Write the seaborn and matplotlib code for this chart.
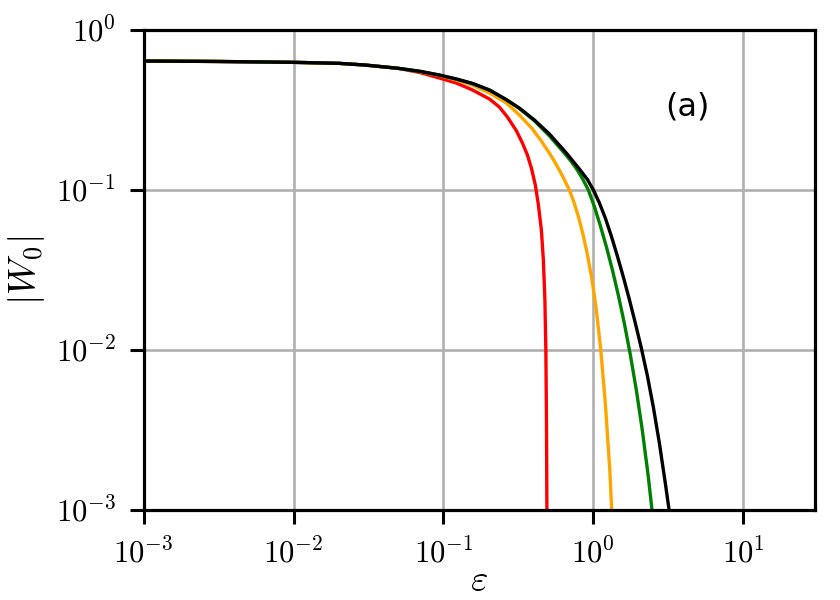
import numpy as np
import pandas as pd
import matplotlib
matplotlib.use('Agg')
import matplotlib.pyplot as plt
import matplotlib.ticker as mticker
import seaborn as sns

# values (log-log axes)
eps_red = [0.001, 0.003, 0.01, 0.02, 0.03, 0.05, 0.0703, 0.094, 0.122, 0.156, 0.203, 0.236,
           0.267, 0.307, 0.336, 0.363, 0.386, 0.410, 0.430, 0.450, 0.464, 0.475, 0.482,
           0.4866, 0.4898, 0.4905]
w_red = [0.640, 0.636, 0.628, 0.619, 0.604, 0.576, 0.541, 0.501, 0.466, 0.422, 0.370, 0.330,
         0.286, 0.234, 0.197, 0.1655, 0.137, 0.1075, 0.0806, 0.0562, 0.0365, 0.0205, 0.010,
         0.00365, 0.001, 0.0005]

eps_orange = [0.001, 0.003, 0.01, 0.02, 0.03, 0.05, 0.0703, 0.094, 0.122, 0.156, 0.203, 0.263,
              0.321, 0.392, 0.450, 0.509, 0.550, 0.603, 0.646, 0.692, 0.741, 0.794, 0.851,
              0.912, 0.977, 1.047, 1.122, 1.202, 1.288, 1.334]
w_orange = [0.640, 0.636, 0.628, 0.619, 0.604, 0.576, 0.549, 0.520, 0.487, 0.453, 0.404, 0.350,
            0.294, 0.241, 0.202, 0.170, 0.151, 0.1295, 0.114, 0.100, 0.0841, 0.0684, 0.0533,
            0.0396, 0.0279, 0.0178, 0.00989, 0.00462, 0.00176, 0.00088]

eps_green = [0.001, 0.003, 0.01, 0.02, 0.03, 0.05, 0.0703, 0.094, 0.122, 0.156, 0.203, 0.263,
             0.321, 0.404, 0.509, 0.641, 0.703, 0.771, 0.845, 0.926, 1.016, 1.114, 1.222,
             1.340, 1.469, 1.611, 1.766, 1.936, 2.123, 2.328, 2.455, 2.483]
w_green = [0.640, 0.636, 0.628, 0.619, 0.604, 0.576, 0.551, 0.522, 0.493, 0.462, 0.420, 0.366,
           0.323, 0.271, 0.218, 0.170, 0.153, 0.136, 0.118, 0.100, 0.0787, 0.0597, 0.0441,
           0.0316, 0.0219, 0.0146, 0.00929, 0.0056, 0.00313, 0.0016, 0.00102, 0.00092]

eps_black = [0.001, 0.003, 0.01, 0.02, 0.03, 0.05, 0.0703, 0.094, 0.122, 0.156, 0.203, 0.263,
             0.321, 0.404, 0.509, 0.661, 0.813, 0.912, 1.0, 1.096, 1.202, 1.318, 1.445, 1.585,
             1.738, 1.905, 2.089, 2.291, 2.512, 2.754, 3.02, 3.2, 3.22]
w_black = [0.640, 0.636, 0.628, 0.619, 0.604, 0.576, 0.551, 0.523, 0.494, 0.464, 0.422, 0.367,
           0.325, 0.274, 0.224, 0.170, 0.134, 0.1165, 0.100, 0.0832, 0.0667, 0.0515, 0.0387,
           0.0286, 0.0207, 0.01472, 0.01028, 0.00692, 0.0044, 0.00263, 0.00147, 0.001, 0.0008]

series = {'red': (eps_red, w_red), 'orange': (eps_orange, w_orange),
          'green': (eps_green, w_green), 'black': (eps_black, w_black)}

df = pd.concat([pd.DataFrame({'eps': e, 'W': w, 'curve': name})
                for name, (e, w) in series.items()], ignore_index=True)

sns.set_style('ticks')
plt.rcParams['font.family'] = 'serif'
plt.rcParams['font.serif'] = ['cmr10', 'DejaVu Serif']
plt.rcParams['mathtext.fontset'] = 'cm'
plt.rcParams['axes.formatter.use_mathtext'] = True
plt.rcParams['text.color'] = 'black'
plt.rcParams['axes.labelcolor'] = 'black'
plt.rcParams['xtick.color'] = 'black'
plt.rcParams['ytick.color'] = 'black'

fig = plt.figure(figsize=(8.4, 6), dpi=100)
ax = fig.add_axes([0.171, 0.15, 0.799, 0.80])

sns.lineplot(data=df, x='eps', y='W', hue='curve', palette={k: k for k in series},
             estimator=None, sort=False, linewidth=2.4, legend=False, ax=ax)

ax.set_xscale('log')
ax.set_yscale('log')
ax.set_xlim(1e-3, 30)
ax.set_ylim(1e-3, 1)
ax.xaxis.set_major_locator(mticker.LogLocator(base=10, numticks=10))
ax.yaxis.set_major_locator(mticker.LogLocator(base=10, numticks=10))
ax.xaxis.set_minor_locator(mticker.NullLocator())
ax.yaxis.set_minor_locator(mticker.NullLocator())
ax.grid(True, which='major', color='#b0b0b0', linewidth=1.9)
ax.set_axisbelow(True)

for s in ax.spines.values():
    s.set_linewidth(2.3)
    s.set_color('black')
ax.tick_params(which='major', length=10, width=2.2, labelsize=22, pad=10, direction='out')

ax.set_xlabel(r'$\varepsilon$', fontsize=27, labelpad=-3)
ax.set_ylabel(r'$|W_0|$', fontsize=27, labelpad=6)

ax.text(0.81, 0.84, '(a)', transform=ax.transAxes, fontsize=23,
        family=['DejaVu Sans'], ha='center', va='center')

fig.savefig('out.png', dpi=100)
